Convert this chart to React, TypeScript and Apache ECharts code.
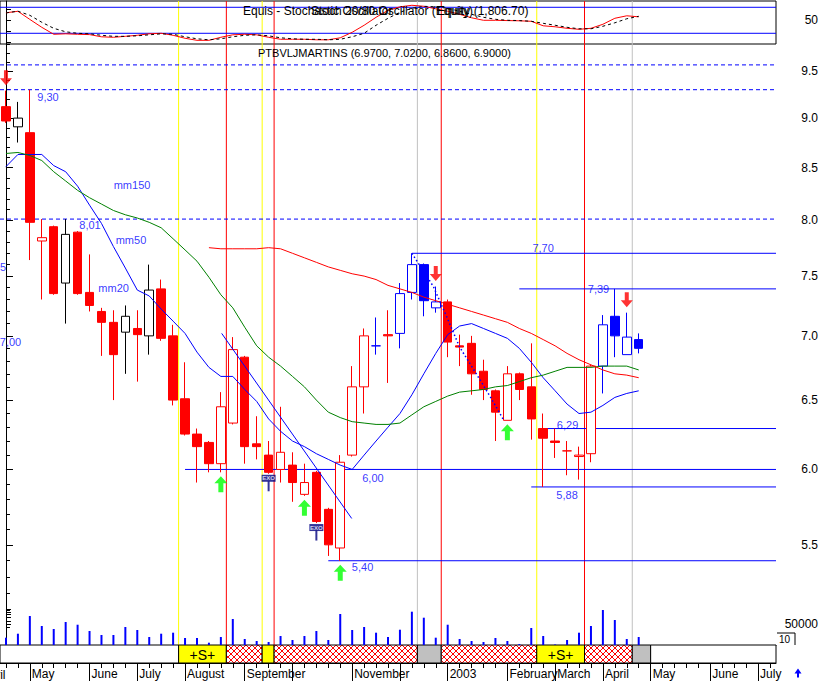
import React, { useEffect, useRef } from "react";
import * as echarts from "echarts";

// ---------- data ----------
const OPEN = [9.12, 8.91, 8.85, 7.81, 7.94, 7.44, 7.89, 7.36, 7.20, 7.11, 7.03, 7.06, 7.00, 7.39, 7.00, 6.51, 6.25, 6.19, 6.04, 6.33, 6.83, 6.18, 6.10, 6.00, 6.03, 5.83, 5.98, 5.73, 5.48, 6.10, 6.60, 6.92, 7.01, 7.02, 7.36, 7.60, 7.23, 7.28, 6.92, 6.94, 6.72, 6.57, 6.35, 6.70, 6.60, 6.29, 6.20, 6.13, 6.09, 6.11, 6.76, 7.16, 6.85, 6.97];
const HIGH = [9.29, 9.17, 9.30, 8.01, 7.95, 8.01, 7.90, 7.69, 7.23, 7.21, 7.25, 7.21, 7.60, 7.47, 7.09, 6.79, 6.29, 6.20, 6.56, 6.99, 6.84, 6.38, 6.20, 6.45, 6.12, 6.04, 5.99, 5.74, 6.10, 6.76, 7.06, 7.15, 7.21, 7.44, 7.70, 7.61, 7.41, 7.30, 7.01, 7.00, 6.81, 6.58, 6.76, 6.71, 6.94, 6.40, 6.29, 6.20, 6.16, 6.77, 7.17, 7.39, 7.19, 7.02];
const LOW = [8.95, 8.75, 7.64, 7.30, 7.34, 7.10, 7.34, 7.20, 6.84, 6.50, 6.70, 6.64, 6.85, 6.96, 6.46, 6.24, 5.91, 5.98, 5.98, 6.32, 6.04, 6.07, 5.97, 5.91, 5.78, 5.82, 5.64, 5.43, 5.40, 6.09, 6.40, 6.85, 6.63, 6.90, 7.30, 7.16, 7.19, 6.83, 6.76, 6.54, 6.50, 6.20, 6.35, 6.50, 6.21, 5.88, 6.08, 5.96, 5.93, 6.05, 6.55, 6.83, 6.85, 6.86];
const CLOSE = [8.97, 9.00, 7.98, 7.84, 7.35, 7.87, 7.35, 7.25, 7.11, 6.85, 7.16, 7.01, 7.38, 6.98, 6.50, 6.25, 6.16, 6.04, 6.45, 6.89, 6.16, 6.16, 5.98, 6.12, 5.91, 5.91, 5.65, 5.50, 6.05, 6.60, 7.00, 6.92, 7.00, 7.35, 7.60, 7.29, 7.28, 6.95, 6.91, 6.70, 6.58, 6.41, 6.70, 6.58, 6.36, 6.22, 6.19, 6.13, 6.10, 6.76, 7.09, 7.00, 6.99, 6.90];
// candle tone: r = red, k = black, b = blue
const CANDLE_TONE = "rkrrrkrrrrkrkrrrrrrrrrrrrrrrrrrbrbbbbrrrrrrrrrrrrrbbbb".split("");

const VOLUME = [17400, 26900, 69000, 45200, 38100, 54800, 48300, 33300, 23800, 23800, 42900, 35700, 19000, 26900, 29300, 16700, 16700, 5500, 19000, 61900, 14300, 9500, 7100, 21400, 11900, 21400, 33300, 11900, 73800, 35700, 42900, 29300, 19000, 36400, 79300, 65000, 17400, 48300, 14300, 9500, 7100, 16700, 9500, 2400, 40500, 21400, 1200, 11900, 29300, 45200, 83300, 59500, 14300, 19000];

const MM20 = [8.51, 8.63, 8.63, 8.63, 8.52, 8.46, 8.32, 8.14, 7.97, 7.76, 7.57, 7.38, 7.33, 7.22, 7.12, 7.02, 6.87, 6.75, 6.68, 6.68, 6.58, 6.49, 6.36, 6.27, 6.20, 6.16, 6.11, 6.07, 6.03, 6.00, 6.10, 6.20, 6.30, 6.40, 6.54, 6.70, 6.86, 7.01, 7.08, 7.10, 7.06, 7.02, 6.98, 6.90, 6.79, 6.67, 6.57, 6.47, 6.40, 6.41, 6.46, 6.52, 6.55, 6.57];
const MM50 = [8.64, 8.65, 8.62, 8.57, 8.46, 8.37, 8.28, 8.21, 8.15, 8.09, 8.05, 8.02, 7.98, 7.93, 7.83, 7.73, 7.63, 7.49, 7.34, 7.23, 7.07, 6.92, 6.83, 6.76, 6.68, 6.60, 6.50, 6.41, 6.37, 6.34, 6.33, 6.32, 6.32, 6.33, 6.39, 6.45, 6.49, 6.53, 6.56, 6.57, 6.58, 6.60, 6.61, 6.64, 6.67, 6.69, 6.72, 6.75, 6.75, 6.75, 6.76, 6.76, 6.76, 6.73];
const MM150 = [null, null, null, null, null, null, null, null, null, null, null, null, null, null, null, null, null, 7.75, 7.74, 7.74, 7.74, 7.74, 7.75, 7.74, 7.70, 7.66, 7.62, 7.58, 7.55, 7.52, 7.50, 7.47, 7.42, 7.39, 7.36, 7.32, 7.29, 7.26, 7.23, 7.20, 7.17, 7.14, 7.11, 7.06, 7.02, 6.97, 6.92, 6.86, 6.81, 6.77, 6.73, 6.70, 6.69, 6.67];

const STOCH_K = [67.3, 70.8, 52, 33.8, 17.7, 18.8, 17.7, 17, 11.9, 10.8, 13, 15.4, 18.8, 20, 15.4, 8.5, 3.8, 3.8, 10.8, 16.5, 17.7, 16.5, 10.8, 6.2, 6.2, 6.2, 5, 5, 9.6, 22.3, 38.5, 56.9, 73, 81, 84.6, 82.3, 76.5, 70.8, 63.8, 55.8, 50, 50, 49.3, 48.8, 47.7, 37.3, 35, 31.5, 29.2, 31.5, 40.8, 54.6, 60.4, 58];
const STOCH_D = [67, 71, 61.5, 45.4, 31.5, 23.5, 20, 18.8, 15.4, 13, 13, 14.2, 16.5, 18.8, 17.7, 12, 7.3, 5, 7.3, 12, 15.4, 16.5, 14.2, 9.6, 7.3, 6.2, 6.2, 5, 6.2, 12, 20, 38.5, 54.6, 68.5, 77.7, 82.3, 81, 77.7, 70.8, 63.8, 56.9, 52.3, 50, 49.3, 47.7, 43, 38.5, 33.8, 30.4, 30.4, 36.2, 44.2, 53.5, 59.2];
const STOCH_LEVELS = [80, 20];

const TREND_X = [18.07, 28.96];
const TREND_P = [7.02, 5.67];
const ZIGZAG_X = [34.0, 35.8, 36.9, 38.0, 39.4, 40.6, 41.7];
const ZIGZAG_P = [7.70, 7.41, 7.16, 6.91, 6.70, 6.52, 6.35];

const LEVEL_PRICES = [7.70, 7.39, 6.29, 6.00, 5.88, 5.40];
const LEVEL_START = [34, 43, 45, 15, 44, 27];
const DASHED_LEVELS = [9.57, 9.30, 8.01];

const SIGNAL_X = [14.46, 18.46, 21.46, 22.46, 34.46, 36.46, 44.46, 48.46, 52.46];
const SIGNAL_KIND = ["y", "r", "y", "r", "g", "r", "y", "r", "g"];

const STRIP_START = [-0.5, 14.46, 18.46, 21.46, 22.46, 34.46, 36.46, 44.46, 48.46, 52.46, 54.0];
const STRIP_END = [14.46, 18.46, 21.46, 22.46, 34.46, 36.46, 44.46, 48.46, 52.46, 54.0, 64.5];
const STRIP_KIND = ["W", "S", "H", "Y", "H", "G", "H", "S", "H", "G", "W"];

const SELL_AT = [0, 36, 52];
const BUY_AT = [18, 25, 28, 42];
const EXO_AT = [22, 26];

const NOTE_TEXT = ["9,30", "8,01", "7,70", "7,39", "6,29", "6,00", "5,88", "5,40", "7,00", "7,65", "mm150", "mm50", "mm20"];
const NOTE_X = [3.52, 7.04, 44.99, 49.63, 47.04, 30.74, 47.0, 29.87, 0.38, -0.88, 10.56, 10.47, 9.02];
const NOTE_P = [9.22, 7.96, 7.747, 7.389, 6.319, 5.941, 5.826, 5.361, 6.95, 7.579, 8.331, 7.819, 7.395];

const PRICE_TICKS = [5.5, 6.0, 6.5, 7.0, 7.5, 8.0, 8.5, 9.0, 9.5];
const MONTH_TICKS = [2, 7, 11, 15, 20, 24, 29, 33, 37, 42, 46, 50, 54, 59, 63];
const MONTH_NAMES = ["May", "June", "July", "August", "September", "", "November", "", "2003", "February", "March", "April", "May", "June", "July"];
const VOLUME_LABELS = [50000];
const VOLUME_TICKS = [50000, 57000, 66000, 73000, 79000, 85000];
const STOCH_LABELS = [50];

// ---------- layout / style ----------
const X_MIN = -0.5;
const X_MAX = 64.5;
const LN_MIN = 1.58915;
const LN_MAX = 2.28275;
const ST_MIN = -4.7;
const ST_MAX = 94.5;
const FONT = "Liberation Sans";
const RED = "#ff0000";
const BLUE = "#0000ff";
const GREEN = "#008000";
const YELLOW = "#ffff00";
const GRAY = "#c0c0c0";
const NAVY = "#000080";
const TONE: any = { r: RED, k: "#000000", b: BLUE };
const SIG_COLOR: any = { y: YELLOW, r: RED, g: GRAY };
const L = (p: number) => Math.log(p);

function xAxisHidden(gridIndex: number) {
  return { gridIndex, type: "value", min: X_MIN, max: X_MAX, show: false, splitLine: { show: false } };
}

// a plain two-point line series (rules, trend lines)
function seg(name: string, g: number, pts: number[][], color: string, type: any = "solid", width = 1, z = 1) {
  return {
    type: "line", name, xAxisIndex: g, yAxisIndex: g, z, silent: true,
    showSymbol: false, symbol: "none", clip: false,
    lineStyle: { color, width, type, opacity: 1 },
    emphasis: { disabled: true },
    data: pts,
  };
}

function buildOption(): any {
  const grids = [
    { left: 0, top: 1, width: 776, height: 43, show: true, borderColor: "#000", borderWidth: 1 },
    { left: 0, top: 44, width: 776, height: 601 },
    { left: 0, top: 44, width: 776, height: 601 },
    { left: 0, top: 603, width: 776, height: 42 },
    { left: 0, top: 645, width: 776, height: 18 },
    { left: 0, top: 645, width: 776, height: 18 },
  ].map((g) => ({ ...g, containLabel: false, outerBoundsMode: "none" }));

  const weekTicks: number[] = [];
  for (let k = 0; k <= 64; k++) weekTicks.push(k);
  const minorTicks: number[] = [];
  for (let k = 0; k <= 48; k++) minorTicks.push(L(5.0 + 0.1 * k));

  const xAxis = [
    xAxisHidden(0),
    xAxisHidden(1),
    xAxisHidden(2),
    {
      gridIndex: 3, type: "value", min: X_MIN, max: X_MAX, position: "bottom",
      axisLine: { show: true, lineStyle: { color: "#000", width: 1 } },
      axisTick: { show: false }, axisLabel: { show: false }, splitLine: { show: false },
    },
    {
      gridIndex: 4, type: "value", min: X_MIN, max: X_MAX, position: "bottom",
      axisLine: { show: true, lineStyle: { color: "#000", width: 1 } },
      axisTick: { show: true, length: 5, customValues: weekTicks, lineStyle: { color: "#000" } },
      axisLabel: { show: false }, splitLine: { show: false },
    },
    {
      gridIndex: 5, type: "value", min: X_MIN, max: X_MAX, position: "bottom",
      axisLine: { show: false },
      axisTick: { show: true, length: 18, customValues: MONTH_TICKS, lineStyle: { color: "#000" } },
      axisLabel: {
        show: true,
        customValues: MONTH_TICKS.filter((_, k) => MONTH_NAMES[k] !== ""),
        formatter: (v: number) => {
          const k = MONTH_TICKS.findIndex((m) => Math.abs(m - v) < 1e-6);
          return k >= 0 ? MONTH_NAMES[k] : "";
        },
        align: "left", margin: 5, padding: [0, 0, 0, 2],
        color: "#000", fontSize: 12, fontFamily: FONT,
      },
      splitLine: { show: false },
    },
  ];

  const yAxis = [
    {
      gridIndex: 0, type: "value", position: "right", min: ST_MIN, max: ST_MAX,
      axisLine: { show: true, lineStyle: { color: "#000" } },
      axisTick: { show: true, length: 5, customValues: [0, 25, 50, 75], lineStyle: { color: "#000" } },
      axisLabel: { show: true, customValues: STOCH_LABELS, formatter: (v: number) => String(Math.round(v)), align: "right", margin: 42, color: "#000", fontSize: 12, fontFamily: FONT },
      splitLine: { show: false },
    },
    {
      gridIndex: 1, type: "value", position: "right", min: LN_MIN, max: LN_MAX,
      axisLine: { show: true, lineStyle: { color: "#000" } },
      axisTick: { show: true, length: 7, customValues: PRICE_TICKS.map(L), lineStyle: { color: "#000" } },
      axisLabel: {
        show: true, customValues: PRICE_TICKS.map(L),
        formatter: (v: number) => Math.exp(v).toFixed(1),
        align: "right", margin: 42, color: "#000", fontSize: 12, fontFamily: FONT,
      },
      splitLine: { show: false },
    },
    {
      gridIndex: 2, type: "value", position: "right", min: LN_MIN, max: LN_MAX,
      axisLine: { show: false },
      axisTick: { show: true, length: 4, customValues: minorTicks, lineStyle: { color: "#000" } },
      axisLabel: { show: false }, splitLine: { show: false },
    },
    {
      gridIndex: 3, type: "value", position: "right", min: 0, max: 100000,
      axisLine: { show: false },
      axisTick: { show: true, length: 5, customValues: VOLUME_TICKS, lineStyle: { color: "#000" } },
      axisLabel: { show: true, customValues: VOLUME_LABELS, formatter: (v: number) => String(Math.round(v)), align: "right", margin: 42, color: "#000", fontSize: 12, fontFamily: FONT },
      splitLine: { show: false },
    },
    {
      gridIndex: 4, type: "value", position: "right", min: 0, max: 1,
      axisLine: { show: true, lineStyle: { color: "#000" } },
      axisTick: { show: false }, axisLabel: { show: false }, splitLine: { show: false },
    },
    { gridIndex: 5, type: "value", min: 0, max: 1, show: false, splitLine: { show: false } },
  ];

  const candleData = OPEN.map((o, i) => {
    const c = TONE[CANDLE_TONE[i]];
    const fill = CLOSE[i] > o ? "#ffffff" : c;
    return {
      value: [i, L(o), L(CLOSE[i]), L(LOW[i]), L(HIGH[i])],
      itemStyle: { color: fill, color0: fill, borderColor: c, borderColor0: c, borderColorDoji: c, borderWidth: 1 },
    };
  });

  const priceLine = (vals: (number | null)[], color: string, name: string) => ({
    type: "line", name, xAxisIndex: 1, yAxisIndex: 1, z: 3, silent: true,
    showSymbol: false, symbol: "none",
    lineStyle: { color, width: 1 },
    data: vals.map((v, i) => (v == null ? null : [i, L(v)])).filter((d) => d !== null),
  });

  const series: any[] = [];
  SIGNAL_X.forEach((x, k) => {
    const c = SIG_COLOR[SIGNAL_KIND[k]];
    series.push(seg(`sigS${k}`, 0, [[x, ST_MIN], [x, ST_MAX]], c));
    series.push(seg(`sigP${k}`, 1, [[x, LN_MIN], [x, LN_MAX]], c));
  });
  STOCH_LEVELS.forEach((v, k) => series.push(seg(`stl${k}`, 0, [[X_MIN, v], [X_MAX, v]], BLUE)));
  DASHED_LEVELS.forEach((p, k) => series.push(seg(`dl${k}`, 1, [[X_MIN, L(p)], [X_MAX, L(p)]], BLUE, [4, 3])));
  LEVEL_PRICES.forEach((p, k) => series.push(seg(`lv${k}`, 1, [[LEVEL_START[k], L(p)], [X_MAX, L(p)]], BLUE)));

  series.push(
    {
      type: "line", name: "stochK", xAxisIndex: 0, yAxisIndex: 0, z: 3, silent: true,
      showSymbol: false, symbol: "none", lineStyle: { color: RED, width: 1 },
      data: STOCH_K.map((v, i) => [i, v]),
    },
    {
      type: "line", name: "stochD", xAxisIndex: 0, yAxisIndex: 0, z: 3, silent: true,
      showSymbol: false, symbol: "none", lineStyle: { color: "#000", width: 1, type: [3, 3] },
      data: STOCH_D.map((v, i) => [i, v]),
    },
    {
      type: "candlestick", name: "price", xAxisIndex: 1, yAxisIndex: 1, z: 2, silent: true,
      barWidth: 9, data: candleData,
    },
    priceLine(MM20, BLUE, "mm20"),
    priceLine(MM50, GREEN, "mm50"),
    priceLine(MM150, RED, "mm150"),
    seg("trend", 1, TREND_X.map((x, k) => [x, L(TREND_P[k])]), BLUE, "solid", 1, 3),
    seg("zigzag", 1, ZIGZAG_X.map((x, k) => [x, L(ZIGZAG_P[k])]), BLUE, [1.5, 2.5], 1.5, 3),
    {
      type: "scatter", name: "sell", xAxisIndex: 1, yAxisIndex: 1, z: 4, silent: true,
      symbol: "path://M4,0 L8,0 L8,8 L12,8 L6,15 L0,8 L4,8 Z", symbolSize: [12, 15], symbolOffset: [0, -13],
      itemStyle: { color: RED },
      data: SELL_AT.map((i) => [i, L(HIGH[i])]),
    },
    {
      type: "scatter", name: "buy", xAxisIndex: 1, yAxisIndex: 1, z: 4, silent: true,
      symbol: "path://M6.5,0 L13,7 L9,7 L9,16 L4,16 L4,7 L0,7 Z", symbolSize: [13, 16], symbolOffset: [0, 12],
      itemStyle: { color: "#00ff00" },
      data: BUY_AT.map((i) => [i, L(LOW[i])]),
    },
    {
      type: "scatter", name: "exoStem", xAxisIndex: 1, yAxisIndex: 1, z: 4, silent: true,
      symbol: "rect", symbolSize: [2, 10], symbolOffset: [0, 12.5],
      itemStyle: { color: NAVY },
      data: EXO_AT.map((i) => [i, L(LOW[i])]),
    },
    {
      type: "scatter", name: "exoBox", xAxisIndex: 1, yAxisIndex: 1, z: 5, silent: true,
      symbol: "rect", symbolSize: [14, 7], symbolOffset: [0, 4.5],
      itemStyle: { color: NAVY },
      label: { show: true, position: "inside", formatter: "EXO", fontSize: 6, color: "#ffffff", fontFamily: FONT, fontWeight: "bold" },
      data: EXO_AT.map((i) => [i, L(LOW[i])]),
    },
    {
      type: "scatter", name: "notes", xAxisIndex: 1, yAxisIndex: 1, z: 6, silent: true, clip: false,
      symbolSize: 1, itemStyle: { color: "rgba(0,0,0,0)" },
      label: { show: true, position: "inside", formatter: "{b}", color: BLUE, fontSize: 11, fontFamily: FONT },
      data: NOTE_TEXT.map((t, k) => ({ name: t, value: [NOTE_X[k], L(NOTE_P[k])] })),
    },
    {
      type: "bar", name: "volume", xAxisIndex: 3, yAxisIndex: 3, z: 2, silent: true,
      barWidth: 2, itemStyle: { color: BLUE },
      data: VOLUME.map((v, i) => [i, v]),
    },
    {
      type: "custom", name: "strip", xAxisIndex: 4, yAxisIndex: 4, z: 2, silent: true,
      encode: { x: [0, 1], y: 2 },
      data: STRIP_START.map((s, k) => [s, STRIP_END[k], 0]),
      renderItem: (params: any, api: any) => {
        const kind = STRIP_KIND[params.dataIndex];
        const a = api.coord([api.value(0), 1]);
        const b = api.coord([api.value(1), 0]);
        const x0 = a[0], y0 = a[1], x1 = b[0], y1 = b[1];
        const h = y1 - y0;
        const fill = kind === "S" || kind === "Y" ? YELLOW : kind === "G" ? GRAY : "#ffffff";
        const children: any[] = [
          { type: "rect", shape: { x: x0, y: y0, width: x1 - x0, height: h }, style: { fill, stroke: "none" } },
        ];
        if (kind === "H") {
          const P = 6;
          for (let c = Math.floor((x0 - h) / P) * P; c <= x1 + h; c += P) {
            let t0 = Math.max(0, x0 - c);
            let t1 = Math.min(h, x1 - c);
            if (t1 > t0) children.push({ type: "line", shape: { x1: c + t0, y1: y0 + t0, x2: c + t1, y2: y0 + t1 }, style: { stroke: RED, lineWidth: 1 } });
            t0 = Math.max(0, c - x1);
            t1 = Math.min(h, c - x0);
            if (t1 > t0) children.push({ type: "line", shape: { x1: c - t0, y1: y0 + t0, x2: c - t1, y2: y0 + t1 }, style: { stroke: RED, lineWidth: 1 } });
          }
        }
        if (kind === "S") {
          children.push({ type: "text", style: { text: "+S+", x: (x0 + x1) / 2, y: (y0 + y1) / 2 + 1, align: "center", verticalAlign: "middle", fontSize: 14, fontFamily: FONT, fill: "#000" } });
        }
        children.push({ type: "rect", shape: { x: x0, y: y0, width: x1 - x0, height: h }, style: { fill: "none", stroke: "#000", lineWidth: 1 } });
        return { type: "group", children };
      },
    },
  );

  const n = OPEN.length - 1;
  const title = `PTBVLJMARTINS (${OPEN[n].toFixed(4)}, ${HIGH[n].toFixed(4)}, ${LOW[n].toFixed(4)}, ${CLOSE[n].toFixed(4)})`;
  const txt = (text: string, x: number, y: number, size = 12, fill = "#000") => ({
    type: "text", x, y, z: 20, silent: true,
    style: { text, fill, fontSize: size, fontFamily: FONT, verticalAlign: "middle" },
  });

  const graphic = [
    txt("Equis - Stochastic Oscillator", 243, 11),
    txt("Stoch 20/80 Oscillator (Equity)", 311, 11),
    txt("Equity (1,806.70)", 437, 11),
    txt(title, 258, 53, 11),
    txt("April", -18.5, 675),
    txt("10", 779, 639, 10),
    { type: "polyline", z: 20, silent: true, shape: { points: [[777, 633], [795, 633], [795, 645]] }, style: { stroke: "#000", fill: null, lineWidth: 1 } },
    {
      type: "polygon", z: 20, silent: true,
      shape: { points: [[794.5, 673.5], [798, 668.5], [801.5, 673.5], [799, 673.5], [799, 677.5], [797, 677.5], [797, 673.5]] },
      style: { fill: BLUE },
    },
  ];

  return {
    animation: false,
    backgroundColor: "#ffffff",
    grid: grids,
    xAxis,
    yAxis,
    series,
    graphic,
  };
}

export default function App() {
  const ref = useRef<HTMLDivElement>(null);
  useEffect(() => {
    document.body.style.margin = "0";
    const chart = echarts.init(ref.current as HTMLDivElement, null, { renderer: "svg" });
    chart.setOption(buildOption());
    return () => chart.dispose();
  }, []);
  return <div ref={ref} style={{ width: 823, height: 681 }} />;
}
